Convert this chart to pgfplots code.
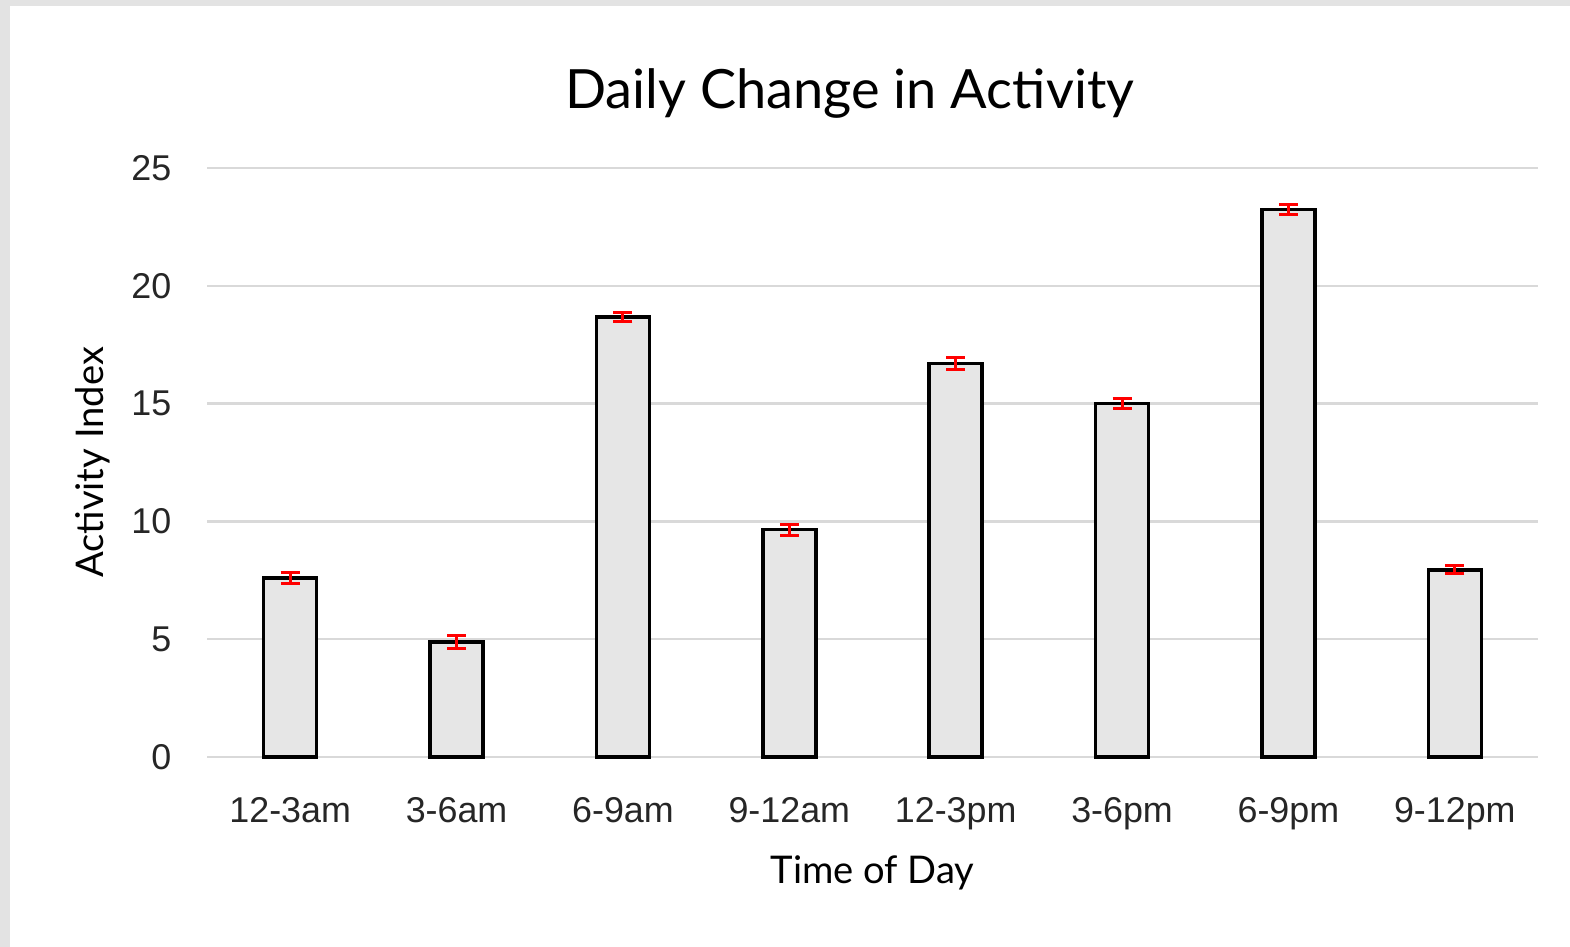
\documentclass[border=0pt]{standalone}
\usepackage{fontspec}
\setmainfont{Liberation Sans}
\newfontfamily\labelfont{Lato}
\usepackage{pgfplots}
\usepackage{pgfplotstable}
\pgfplotsset{compat=1.18}
\definecolor{barfill}{HTML}{E6E6E6}
\definecolor{gridgray}{HTML}{D9D9D9}
\definecolor{framegray}{HTML}{E3E3E3}

% x = slot (0..7), y = activity index, e = error
\pgfplotstableread{
x y e
0 7.60 0.25
1 4.88 0.28
2 18.68 0.20
3 9.65 0.23
4 16.70 0.24
5 15.00 0.22
6 23.23 0.20
7 7.94 0.17
}\activity

\begin{document}
\begin{tikzpicture}[x=0.1mm,y=0.1mm]
% page frame: 1570 x 947 px, axis origin at px (207,757)
\fill[framegray] (-207,-190) rectangle (1363,757);
\fill[white] (-197,-190) rectangle (1363,751);
\useasboundingbox (-207,-190) rectangle (1363,757);
\begin{axis}[
    at={(0,0)}, anchor=south west,
    scale only axis, width=133.1mm, height=58.9mm,
    xmin=-0.5, xmax=7.5, ymin=0, ymax=25,
    axis line style={draw=none},
    xtick=data,
    xticklabels={12-3am, 3-6am, 6-9am, 9-12am, 12-3pm, 3-6pm, 6-9pm, 9-12pm},
    ytick={0,5,...,25},
    ymajorgrids, major grid style={gridgray, line width=0.25mm},
    major tick length=0pt,
    tick label style={font=\fontsize{10.2}{12}\selectfont, text=black!85},
    xticklabel style={anchor=north, inner sep=0pt, yshift=-4.0mm},
    yticklabel style={anchor=east, inner sep=0pt, xshift=-3.5mm},
    /pgf/number format/assume math mode=true,
    title={Daily Change in Activity},
    title style={at={(axis description cs:0.483,1.09)}, anchor=center,
        font=\labelfont\fontsize{15.4}{18}\selectfont},
    xlabel={Time of Day},
    xlabel style={at={(axis description cs:0.5,-0.197)}, anchor=center,
        font=\labelfont\fontsize{10.85}{13}\selectfont},
    ylabel={Activity Index},
    ylabel style={at={(axis description cs:-0.0857,0.5)}, anchor=center,
        font=\labelfont\fontsize{10.85}{13}\selectfont},
    clip=false,
]
\addplot[ybar, bar width=5.3mm, fill=barfill, draw=black, line width=0.35mm,
    error bars/.cd, y dir=both, y explicit,
    error bar style={red, line width=0.3mm},
    error mark options={red, rotate=90, mark size=0.95mm, line width=0.3mm}]
    table[x=x, y=y, y error=e] {\activity};
\end{axis}
\end{tikzpicture}
\end{document}
